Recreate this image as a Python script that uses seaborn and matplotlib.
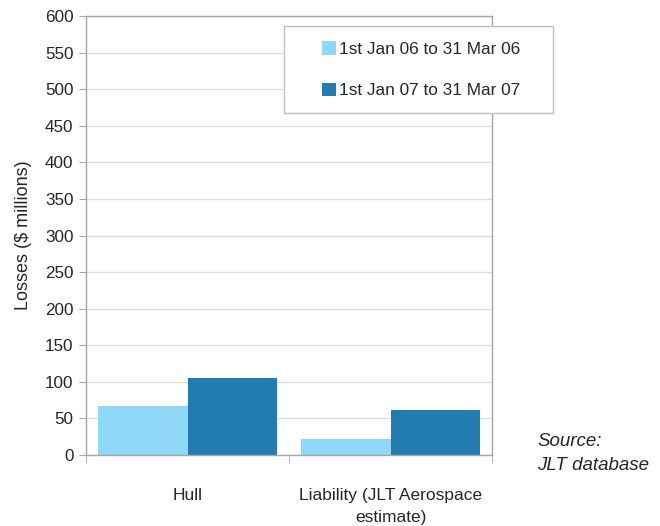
import pandas as pd
import matplotlib
matplotlib.use("Agg")
import matplotlib.pyplot as plt
import seaborn as sns
from matplotlib.patches import Rectangle

# ------------------------------------------------------
# Data
# ------------------------------------------------------
categories = ["Hull", "Liability (JLT Aerospace\nestimate)"]
periods = ["1st Jan 06 to 31 Mar 06", "1st Jan 07 to 31 Mar 07"]
losses_06 = [67, 22]
losses_07 = [105, 61]
colors = ["#8fd8f7", "#237cb0"]
yticks = list(range(0, 601, 50))

df = pd.DataFrame({
    "category": categories * 2,
    "period": [periods[0]] * 2 + [periods[1]] * 2,
    "losses": losses_06 + losses_07,
})

# ------------------------------------------------------
# Style
# ------------------------------------------------------
sns.set_style("white")
plt.rcParams["font.family"] = ["Liberation Sans", "DejaVu Sans"]
text_col = "#262626"
spine_col = "#a6a6a6"

fig = plt.figure(figsize=(6.6, 5.26), dpi=100)
ax = fig.add_axes([86 / 660, 1 - 455 / 526, 406 / 660, 439 / 526])

sns.barplot(data=df, x="category", y="losses", hue="period",
            palette=colors, width=0.88, gap=0, saturation=1,
            linewidth=0, legend=False, ax=ax)

ax.set_ylim(0, 600)
ax.set_xlim(-0.5, 1.5)
ax.set_yticks(yticks)
ax.yaxis.grid(True, color="#dcdcdc", linewidth=1)
ax.set_axisbelow(True)

for s in ax.spines.values():
    s.set_visible(True)
    s.set_color(spine_col)
    s.set_linewidth(1)

ax.tick_params(axis="y", left=True, length=5, color=spine_col,
               labelsize=12.3, labelcolor=text_col, pad=4)
ax.tick_params(axis="x", which="major", bottom=False, labelsize=12.5,
               labelcolor=text_col, pad=20)
for lbl in ax.get_xticklabels():
    lbl.set_linespacing(1.6)
ax.set_xticks([-0.5, 0.5, 1.5], minor=True)
ax.tick_params(axis="x", which="minor", bottom=True, length=6,
               color=spine_col)

ax.set_xlabel("")
ax.set_ylabel("Losses (\\$ millions)", fontsize=13, color=text_col,
              labelpad=9)

# Legend with its own box (partly outside the axes)
box = Rectangle((284 / 660, 1 - 113 / 526), 269 / 660, 87 / 526,
                transform=fig.transFigure, facecolor="white",
                edgecolor="#bfbfbf", linewidth=1, zorder=5)
fig.patches.append(box)

handles = [Rectangle((0, 0), 1, 1, facecolor=c, edgecolor="none")
           for c in colors]
leg = fig.legend(handles, periods, loc="center",
                 bbox_to_anchor=(0.4345, 0.785, 0.408, 0.1654),
                 bbox_transform=fig.transFigure, frameon=False,
                 fontsize=12.4, labelcolor=text_col, handlelength=0.8,
                 handleheight=0.85, handletextpad=0.2, labelspacing=1.5)
leg.set_zorder(6)

# Source note
fig.text(537 / 660, 1 - 442 / 526, "Source:", fontsize=13.5,
         style="italic", color=text_col, va="center")
fig.text(537 / 660, 1 - 466 / 526, "JLT database", fontsize=13.5,
         style="italic", color=text_col, va="center")

fig.savefig("out.png", dpi=100)
